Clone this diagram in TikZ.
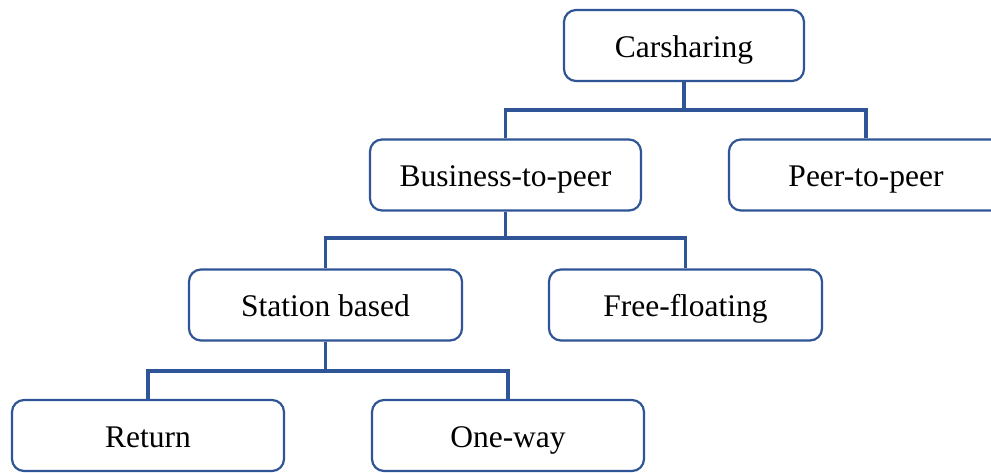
\documentclass[tikz,border=0pt]{standalone}
\usepackage{fontspec}
\setmainfont{Liberation Serif}
\definecolor{linkblue}{RGB}{47,85,151}
\begin{document}
\begin{tikzpicture}[x=1pt,y=-1pt,
  box/.style={draw=linkblue, line width=2.2pt, rounded corners=12pt, fill=white,
    minimum height=71pt, inner sep=0pt, text height=27pt, text depth=4pt,
    font=\fontsize{31.5}{36}\selectfont},
  link/.style={draw=linkblue, line width=3.2pt}]
\useasboundingbox[fill=white] (0,0) rectangle (991,472);
\clip (0,0) rectangle (991,472);
% tree of carsharing types
\node[box, minimum width=240pt] (cs) at (684,45.5) {Carsharing};
\node[box, minimum width=271pt] (b2p) at (505.5,175) {Business-to-peer};
\node[box, minimum width=274pt] (p2p) at (866,175) {Peer-to-peer};
\node[box, minimum width=273pt] (sb) at (325.5,305) {Station based};
\node[box, minimum width=273pt] (ff) at (685.5,305) {Free-floating};
\node[box, minimum width=272pt] (ret) at (148,435.5) {Return};
\node[box, minimum width=272pt] (ow) at (508,435.5) {One-way};
% connectors with a shared horizontal bar
\coordinate (j1) at (684,110);
\coordinate (j2) at (505.5,238);
\coordinate (j3) at (325.5,371);
\draw[link] (cs.south) -- (j1);
\draw[link] (b2p.north) |- (j1) -| (p2p.north);
\draw[link] (b2p.south) -- (j2);
\draw[link] (sb.north) |- (j2) -| (ff.north);
\draw[link] (sb.south) -- (j3);
\draw[link] (ret.north) |- (j3) -| (ow.north);
\end{tikzpicture}
\end{document}
